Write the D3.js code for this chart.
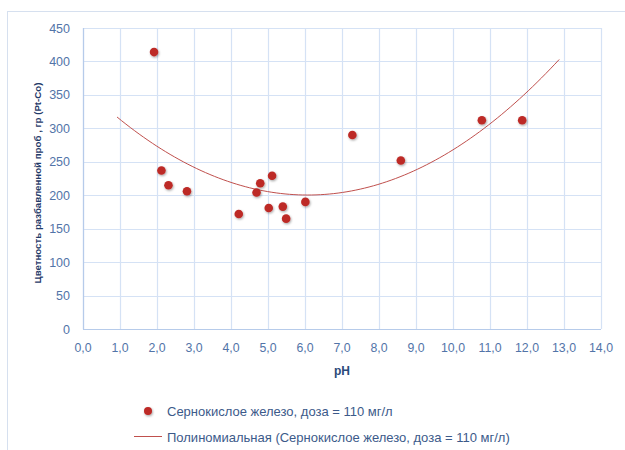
<!DOCTYPE html>
<html lang="ru">
  <head>
    <meta charset="utf-8">
    <title>Цветность от pH</title>
    <script src="https://d3js.org/d3.v7.js"></script>
    <style>
      body { margin: 0; background: white; }
      text { font-family: "Liberation Sans", Arial, sans-serif; }
    </style>
  </head>
  <body>
    <script>
    // data
    const phValues    = [1.92, 2.12, 2.31, 2.81, 4.21, 4.69, 4.79, 5.02, 5.11, 5.40, 5.49, 6.01, 7.28, 8.59, 10.78, 11.87];
    const colorValues = [414, 237, 215, 206, 172, 204, 218, 181, 229, 183, 165, 190, 290, 252, 312, 312];
    const xTicks = [0, 1, 2, 3, 4, 5, 6, 7, 8, 9, 10, 11, 12, 13, 14];
    const yTicks = [0, 50, 100, 150, 200, 250, 300, 350, 400, 450];
    const seriesName = "Сернокислое железо, доза = 110 мг/л";
    const trendName = "Полиномиальная (Сернокислое железо, доза = 110 мг/л)";

    const w = 625;
    const h = 450;
    const mLeft = 83, mRight = 601, mTop = 28, mBottom = 329;

    const svg = d3.select("body")
      .append("svg")
      .attr("width", w)
      .attr("height", h);

    // drop shadow for the dots
    const defs = svg.append("defs");
    const f = defs.append("filter").attr("id", "shadow")
      .attr("x", "-50%").attr("y", "-50%").attr("width", "200%").attr("height", "200%");
    f.append("feDropShadow").attr("dx", 0.8).attr("dy", 1.2)
      .attr("stdDeviation", 1).attr("flood-color", "#000").attr("flood-opacity", 0.35);

    svg.append("rect")
      .attr("x", 7.5).attr("y", 11.5)
      .attr("width", 660).attr("height", 480)
      .attr("fill", "white")
      .attr("stroke", "#d6e0ef");

    const x = d3.scaleLinear().domain([0, 14]).range([mLeft, mRight]);
    const y = d3.scaleLinear().domain([0, 450]).range([mBottom, mTop]);

    // gridlines
    svg.append("g").selectAll("line").data(xTicks).enter().append("line")
      .attr("x1", d => Math.round(x(d)) + 0.5).attr("x2", d => Math.round(x(d)) + 0.5)
      .attr("y1", mTop).attr("y2", mBottom)
      .attr("stroke", "#d5e2f5").attr("stroke-width", 1.2);
    svg.append("g").selectAll("line").data(yTicks).enter().append("line")
      .attr("x1", mLeft).attr("x2", mRight)
      .attr("y1", d => Math.round(y(d)) + 0.5).attr("y2", d => Math.round(y(d)) + 0.5)
      .attr("stroke", "#d5e2f5").attr("stroke-width", 1.2);

    // axes lines
    svg.append("line")
      .attr("x1", mLeft + 0.5).attr("x2", mLeft + 0.5).attr("y1", mTop).attr("y2", mBottom + 0.5)
      .attr("stroke", "#b6cbea").attr("stroke-width", 1.2);
    svg.append("line")
      .attr("x1", mLeft).attr("x2", mRight).attr("y1", mBottom + 0.5).attr("y2", mBottom + 0.5)
      .attr("stroke", "#b6cbea").attr("stroke-width", 1.2);

    // tick labels
    const fmt = d => d3.format(".1f")(d).replace(".", ",");
    svg.append("g").selectAll("text").data(xTicks).enter().append("text")
      .attr("x", d => x(d)).attr("y", 352)
      .attr("text-anchor", "middle")
      .attr("font-size", 12.3)
      .attr("fill", "#5274a8")
      .text(fmt);
    svg.append("g").selectAll("text").data(yTicks).enter().append("text")
      .attr("x", 70).attr("y", d => y(d) + 4.5)
      .attr("text-anchor", "end")
      .attr("font-size", 12.5)
      .attr("fill", "#5274a8")
      .text(d => d);

    // axis titles
    svg.append("text")
      .attr("x", x(7)).attr("y", 375)
      .attr("text-anchor", "middle")
      .attr("font-size", 12)
      .attr("font-weight", "bold")
      .attr("fill", "#2b4a7a")
      .text("pH");
    svg.append("text")
      .attr("transform", "translate(40.5,183) rotate(-90)")
      .attr("text-anchor", "middle")
      .attr("font-size", 9.7)
      .attr("font-weight", "bold")
      .attr("fill", "#1f3a68")
      .text("Цветность разбавленной проб , гр (Pt-Co)");

    // polynomial (order 2) trend, least squares
    function polyFit(xs, ys) {
      const n = xs.length;
      let s = [0, 0, 0, 0, 0], t = [0, 0, 0];
      for (let i = 0; i < n; i++) {
        for (let k = 0; k <= 4; k++) s[k] += Math.pow(xs[i], k);
        for (let k = 0; k <= 2; k++) t[k] += ys[i] * Math.pow(xs[i], k);
      }
      const A = [[s[0], s[1], s[2], t[0]], [s[1], s[2], s[3], t[1]], [s[2], s[3], s[4], t[2]]];
      for (let i = 0; i < 3; i++) {
        for (let j = i + 1; j < 3; j++) {
          const r = A[j][i] / A[i][i];
          for (let k = i; k < 4; k++) A[j][k] -= r * A[i][k];
        }
      }
      const c = [0, 0, 0];
      for (let i = 2; i >= 0; i--) {
        let v = A[i][3];
        for (let k = i + 1; k < 3; k++) v -= A[i][k] * c[k];
        c[i] = v / A[i][i];
      }
      return c;
    }
    const coef = polyFit(phValues, colorValues);
    const x0 = d3.min(phValues) - 1, x1 = d3.max(phValues) + 1;
    const trendPts = d3.range(0, 101).map(i => {
      const xv = x0 + (x1 - x0) * i / 100;
      return [xv, coef[0] + coef[1] * xv + coef[2] * xv * xv];
    });
    svg.append("path")
      .datum(trendPts)
      .attr("fill", "none")
      .attr("stroke", "#c0504d")
      .attr("stroke-width", 1)
      .attr("d", d3.line().x(d => x(d[0])).y(d => y(d[1])));

    // dots
    svg.append("g").selectAll("circle").data(phValues).enter().append("circle")
      .attr("cx", d => x(d))
      .attr("cy", (d, i) => y(colorValues[i]))
      .attr("r", 4.3)
      .attr("fill", "#bd2a26")
      .attr("filter", "url(#shadow)");

    // legend
    svg.append("circle")
      .attr("cx", 148).attr("cy", 411).attr("r", 4)
      .attr("fill", "#bd2a26")
      .attr("filter", "url(#shadow)");
    svg.append("text")
      .attr("x", 167).attr("y", 415.5)
      .attr("font-size", 13)
      .attr("fill", "#3c5a8a")
      .text(seriesName);
    svg.append("line")
      .attr("x1", 134).attr("x2", 162).attr("y1", 436.5).attr("y2", 436.5)
      .attr("stroke", "#c0504d");
    svg.append("text")
      .attr("x", 167).attr("y", 441.5)
      .attr("font-size", 13)
      .attr("fill", "#3c5a8a")
      .text(trendName);
    </script>
  </body>
</html>
